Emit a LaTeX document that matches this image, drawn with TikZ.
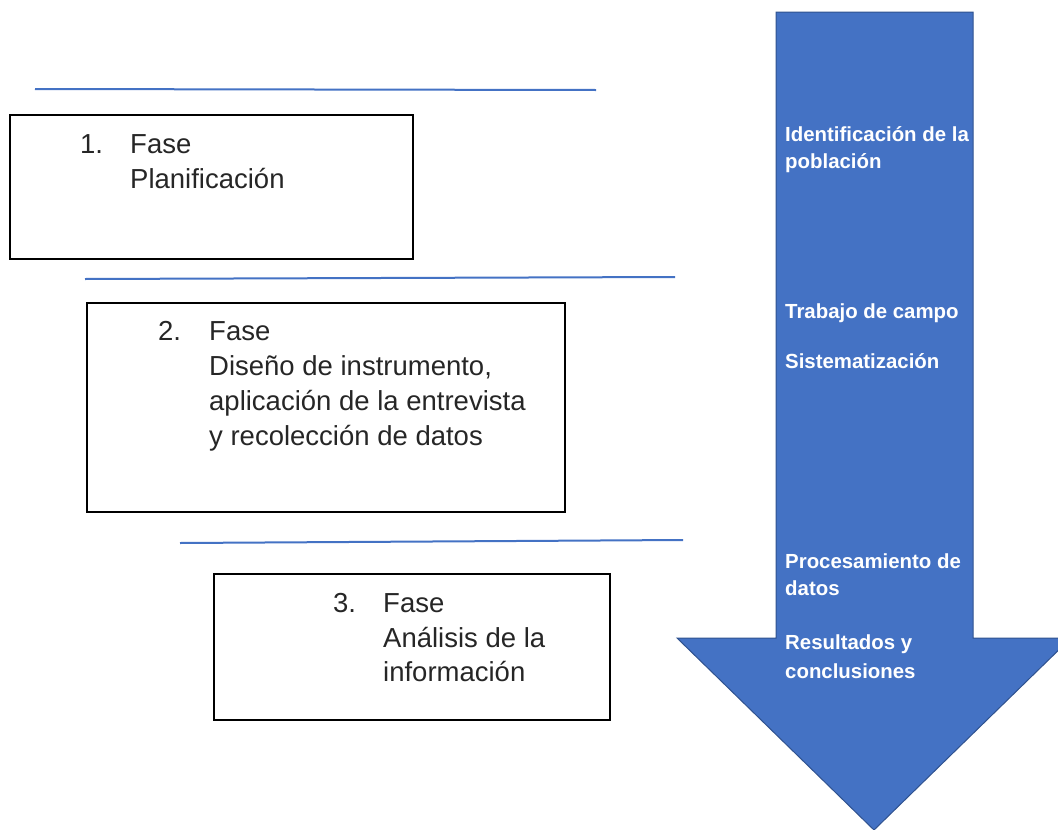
\documentclass[tikz,border=0pt]{standalone}
\usepackage{fontspec}
\setmainfont{Liberation Sans}
\definecolor{obl}{HTML}{4472C4}
\definecolor{obd}{HTML}{2F528F}
\begin{document}
\begin{tikzpicture}[x=1pt,y=-1pt,
  phasebox/.style={draw=black,line width=1.8pt},
  sepline/.style={draw=obl,line width=2pt},
  boxtxt/.style={anchor=base west,inner sep=0pt,font=\fontsize{27.5}{35}\selectfont,text=black!85},
  arrtxt/.style={anchor=base west,inner sep=0pt,font=\fontsize{20.4}{27}\selectfont\bfseries,text=white}]
\useasboundingbox (0,0) rectangle (1058,830);
\begin{scope}
\clip (0,0) rectangle (1058,830);
\fill[obl,draw=obd,line width=1pt] (776,12) -- (973,12) -- (973,638) -- (1071,638) -- (874,830) -- (677,638) -- (776,638) -- cycle;
\end{scope}
% separator lines
\coordinate (l1a) at (35,89);  \coordinate (l1b) at (596,90);
\coordinate (l2a) at (85,279); \coordinate (l2b) at (675,277);
\coordinate (l3a) at (180,543);\coordinate (l3b) at (683,540);
\draw[sepline] (l1a) -- (l1b);
\draw[sepline] (l2a) -- (l2b);
\draw[sepline] (l3a) -- (l3b);
% boxes
\draw[phasebox] (10,115) rectangle (413,259);
\draw[phasebox] (87,303) rectangle (565,512);
\draw[phasebox] (214,574) rectangle (610,720);
% box texts
\node[boxtxt] (n1) at (80,153) {1.};
\node[boxtxt] (f1) at (130,153) {Fase};
\node[boxtxt] (f1b) at (130,188) {Planificación};
\node[boxtxt] (n2) at (158,340) {2.};
\node[boxtxt] (f2) at (209,340) {Fase};
\node[boxtxt] (f2b) at (209,375) {Diseño de instrumento,};
\node[boxtxt] (f2c) at (209,410) {aplicación de la entrevista};
\node[boxtxt] (f2d) at (209,445) {y recolección de datos};
\node[boxtxt] (n3) at (333,612) {3.};
\node[boxtxt] (f3) at (383,612) {Fase};
\node[boxtxt] (f3b) at (383,647) {Análisis de la};
\node[boxtxt] (f3c) at (383,681) {información};
% arrow texts
\node[arrtxt] (a1) at (785,141) {Identificación de la};
\node[arrtxt] (a1b) at (785,168) {población};
\node[arrtxt] (a2) at (785,318) {Trabajo de campo};
\node[arrtxt] (a3) at (785,368) {Sistematización};
\node[arrtxt] (a4) at (785,568) {Procesamiento de};
\node[arrtxt] (a4b) at (785,595) {datos};
\node[arrtxt] (a5) at (785,649) {Resultados y};
\node[arrtxt] (a5b) at (785,678) {conclusiones};
\end{tikzpicture}
\end{document}
